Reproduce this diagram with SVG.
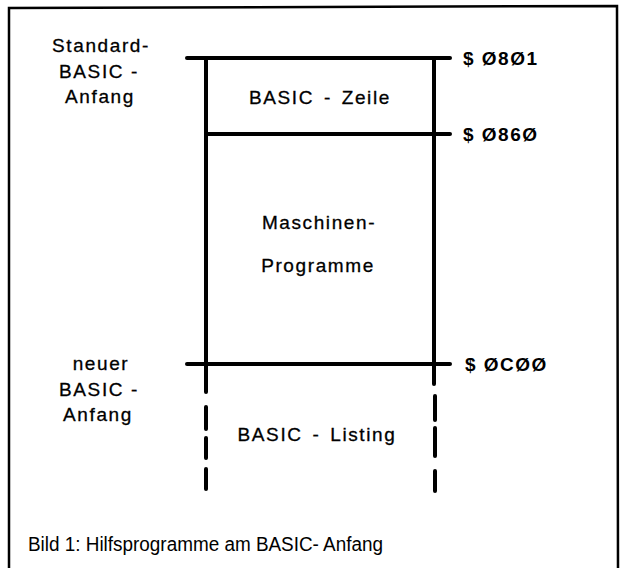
<svg xmlns="http://www.w3.org/2000/svg" width="621" height="568" viewBox="0 0 621 568">
<style>
.lbl{font-family:"Liberation Sans","DejaVu Sans",sans-serif;font-size:19px;fill:#000;stroke:#000;stroke-width:0.3;letter-spacing:1.6px;text-anchor:middle}
.addr{font-family:"Liberation Sans","DejaVu Sans",sans-serif;font-size:19px;font-weight:bold;fill:#000;letter-spacing:1.5px}
.cap{font-family:"Liberation Sans","Arial",sans-serif;font-size:20px;fill:#000}
.ln{stroke:#000;stroke-width:4;stroke-linecap:round;fill:none}
</style>
<rect width="621" height="568" fill="#fff"/>
<path d="M9,568 L9,8 L617,6 L618,568" fill="none" stroke="#000" stroke-width="2.5"/>
<g id="connectors">
<line class="ln" x1="187" y1="58" x2="450" y2="58"/>
<line class="ln" x1="206" y1="58" x2="206" y2="392"/>
<line class="ln" x1="434" y1="58" x2="434" y2="384"/>
<line class="ln" x1="206" y1="134" x2="450" y2="134"/>
<line class="ln" x1="187" y1="364" x2="450" y2="364"/>
<line class="ln" x1="206" y1="407" x2="206" y2="429"/>
<line class="ln" x1="206" y1="438" x2="206" y2="458"/>
<line class="ln" x1="206" y1="469" x2="206" y2="489"/>
<line class="ln" x1="435" y1="396" x2="435" y2="420"/>
<line class="ln" x1="435" y1="428" x2="435" y2="456"/>
<line class="ln" x1="435" y1="471" x2="435" y2="491"/>
</g>
<g id="std-anfang">
<text class="lbl" x="101" y="52">Standard-</text>
<text class="lbl" x="99" y="78">BASIC -</text>
<text class="lbl" x="100" y="103">Anfang</text>
</g>
<g id="basic-zeile"><text class="lbl" x="320" y="104" word-spacing="3">BASIC - Zeile</text></g>
<g id="maschinen"><text class="lbl" x="319" y="229">Maschinen-</text><text class="lbl" x="318" y="272">Programme</text></g>
<g id="neuer-anfang">
<text class="lbl" x="101" y="370">neuer</text>
<text class="lbl" x="99" y="396">BASIC -</text>
<text class="lbl" x="98" y="421">Anfang</text>
</g>
<g id="basic-listing"><text class="lbl" x="317" y="441" word-spacing="3">BASIC - Listing</text></g>
<g id="addr-0801"><text class="addr" x="463" y="65">$ Ø8Ø1</text></g>
<g id="addr-0860"><text class="addr" x="463" y="141">$ Ø86Ø</text></g>
<g id="addr-0c00"><text class="addr" x="465" y="371">$ ØCØØ</text></g>
<g id="caption"><text class="cap" x="28" y="551" textLength="355" lengthAdjust="spacingAndGlyphs">Bild 1: Hilfsprogramme am BASIC- Anfang</text></g>
</svg>
